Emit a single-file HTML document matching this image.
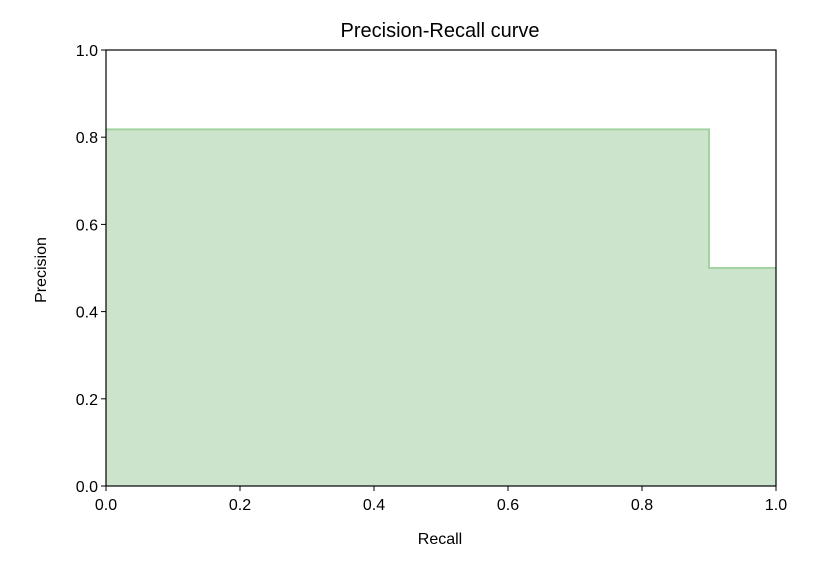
<!DOCTYPE html>
<html><head><meta charset="utf-8"><style>
body{margin:0;background:#fff;}
text{font-family:"Liberation Sans","DejaVu Sans",sans-serif;fill:#000;}
</style></head><body>
<svg id="chart" width="834" height="568" xmlns="http://www.w3.org/2000/svg">
<text x="440" y="37" font-size="20" text-anchor="middle">Precision-Recall curve</text>
<g id="plot"></g>
<text x="440" y="544" font-size="16" text-anchor="middle">Recall</text>
<text x="46" y="270" font-size="16" text-anchor="middle" transform="rotate(-90 46 270)">Precision</text>
</svg>
<script>
const recall=[0,0.9,0.9,1.0];
const precision=[0.818,0.818,0.5,0.5];
const xTicks=["0.0","0.2","0.4","0.6","0.8","1.0"];
const yTicks=["0.0","0.2","0.4","0.6","0.8","1.0"];
const L=106,R=776,T=50,B=486;
const sx=v=>L+v*(R-L), sy=v=>B-v*(B-T);
const g=document.getElementById('plot');
const NS="http://www.w3.org/2000/svg";
function mk(t,a){const e=document.createElementNS(NS,t);for(const k in a)e.setAttribute(k,a[k]);g.appendChild(e);return e;}
let d=`M${sx(recall[0])},${sy(precision[0])}`;
for(let i=1;i<recall.length;i++){d+=` L${sx(recall[i])},${sy(precision[i-1])} L${sx(recall[i])},${sy(precision[i])}`;}
const fill=mk('path',{d:d+` L${sx(recall[recall.length-1])},${sy(0)} L${sx(recall[0])},${sy(0)} Z`,fill:'#cce4cc',stroke:'none'});


const line=mk('path',{d:d,fill:'none',stroke:'#a3d3a3','stroke-width':2});


const frame=mk('rect',{x:L,y:T,width:R-L,height:B-T,fill:'none',stroke:'#000','stroke-width':1.2});


xTicks.forEach(t=>{const x=sx(parseFloat(t));
 const l=mk('line',{x1:x,x2:x,y1:B,y2:B+5,stroke:'#000'});
 
 
 const tx=mk('text',{x:x,y:B+24,'font-size':16,'text-anchor':'middle'});tx.textContent=t;
 
 });
yTicks.forEach(t=>{const y=sy(parseFloat(t));
 const l=mk('line',{x1:L-5,x2:L,y1:y,y2:y,stroke:'#000'});
 
 
 const tx=mk('text',{x:L-8,y:y+6,'font-size':16,'text-anchor':'end'});tx.textContent=t;
 
 });
</script>
</body></html>
